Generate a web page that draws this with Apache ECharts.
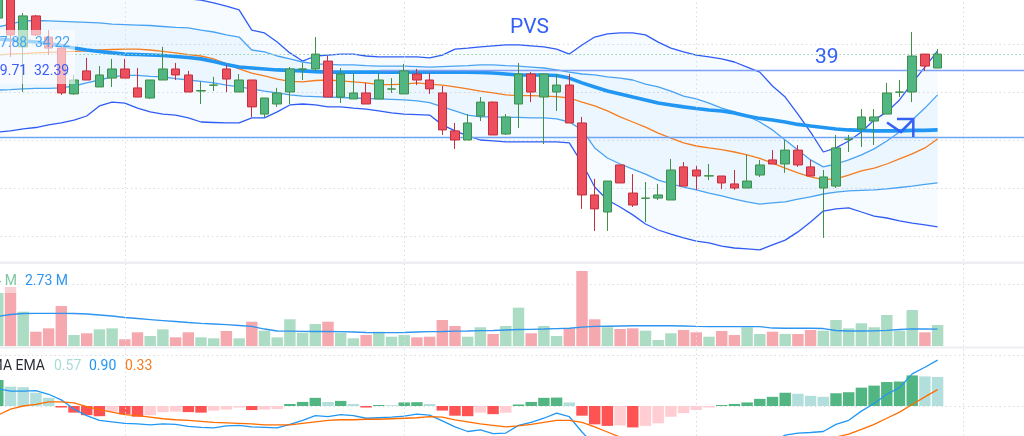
<!DOCTYPE html>
<html><head><meta charset="utf-8">
<script src="https://cdn.jsdelivr.net/npm/echarts@6/dist/echarts.min.js"></script>
<style>html,body{margin:0;padding:0;background:#fff;overflow:hidden}#c{width:1024px;height:436px}</style>
</head><body><div id="c"></div>
<script>
// [open, close, low, high]
const candles = [
[41.08,42.30,41.00,42.50],[42.40,40.38,39.46,42.50],[39.88,41.17,38.00,41.29],[41.17,40.38,40.33,41.21],[40.29,39.83,39.54,40.58],
[39.83,37.96,37.88,39.88],[37.92,38.50,37.88,38.71],[38.88,38.50,38.50,39.42],[38.21,38.71,38.21,39.08],[38.58,38.96,38.21,39.38],
[38.96,38.58,38.58,39.38],[38.17,37.79,37.79,39.00],[37.75,38.50,37.71,38.50],[38.50,38.96,38.50,39.88],[38.96,38.71,38.50,39.21],
[38.71,38.00,38.00,38.88],[38.04,38.06,37.50,38.42],[38.28,38.29,38.04,38.63],[38.96,38.54,38.00,39.13],[38.00,38.50,38.00,38.75],
[38.50,37.38,36.96,38.50],[37.08,37.75,36.96,37.75],[37.50,37.96,37.38,38.17],[38.00,38.96,37.50,39.04],[38.95,38.96,38.50,39.21],
[38.96,39.58,38.88,40.29],[39.29,37.79,37.79,39.50],[37.79,38.75,37.54,39.00],[37.71,37.96,37.71,38.79],[37.96,37.50,37.50,38.38],
[37.71,38.50,37.71,38.79],[38.12,38.13,37.96,38.58],[37.92,38.88,37.92,39.17],[38.75,38.50,38.29,38.96],[38.50,38.13,37.92,38.79],
[37.96,36.42,36.21,38.25],[36.38,36.00,35.63,36.71],[36.00,36.71,36.00,37.08],[37.00,37.58,36.79,37.79],[37.58,36.21,36.21,37.60],
[36.25,36.96,36.21,37.08],[37.50,38.75,36.50,39.21],[38.75,38.00,37.58,38.83],[37.79,38.75,35.83,38.75],[38.00,38.29,37.21,38.75],
[38.29,36.71,36.71,38.75],[36.71,33.71,33.13,36.96],[33.71,33.13,32.21,34.38],[33.00,34.29,32.21,34.29],[34.96,34.21,34.21,34.96],
[33.79,33.29,33.21,34.58],[33.57,33.58,32.58,34.25],[33.58,33.71,33.50,34.17],[33.50,34.75,33.50,35.21],[34.88,34.08,34.08,35.08],
[34.75,34.50,33.92,34.92],[34.50,34.51,34.33,35.00],[34.50,34.21,33.96,34.50],[34.17,34.00,33.92,34.75],[34.00,34.29,34.00,35.38],
[34.54,34.96,34.46,35.17],[35.17,35.00,35.00,35.58],[35.00,35.58,34.63,36.00],[35.58,34.96,34.88,35.79],[34.88,34.50,34.50,35.17],
[34.00,34.46,31.92,34.75],[34.08,35.67,34.00,36.21],[36.03,36.04,35.50,36.21],[36.46,36.96,35.71,37.29],[36.79,36.96,35.79,37.29],
[37.08,37.96,37.08,38.38],[37.99,38.00,37.79,38.50],[38.00,39.50,37.58,40.50],[39.58,39.08,38.88,39.58],[39.00,39.58,39.00,39.79]
];
const volumes = [8.55,9.52,5.53,2.31,2.85,6.45,1.77,2.05,2.69,2.85,
1.08,2.21,1.61,2.69,1.40,2.21,1.40,1.24,2.42,1.24,
3.92,2.47,1.40,4.31,2.15,3.55,3.92,2.15,1.24,1.77,
2.31,1.50,1.77,1.40,1.50,4.19,3.23,1.50,3.02,1.94,
3.23,6.18,2.05,3.23,1.61,2.85,12.10,4.31,3.02,2.74,
2.85,2.47,0.97,2.05,2.58,2.21,1.50,2.42,1.77,3.02,
1.94,2.31,1.94,1.94,2.58,2.47,4.19,2.85,3.66,3.02,
5.00,2.47,5.81,2.21,3.39];
const volumeMA = [4.76,5.08,5.24,5.27,5.27,5.27,5.24,5.16,5.00,4.84,
4.60,4.44,4.27,4.11,3.95,3.79,3.66,3.55,3.44,3.31,
3.15,2.74,2.42,2.39,2.36,2.34,2.34,2.31,2.26,2.18,
2.15,2.15,2.18,2.26,2.31,2.34,2.39,2.42,2.47,2.50,
2.58,2.66,2.69,2.74,2.81,2.86,3.06,3.15,3.19,3.23,
3.27,3.27,3.27,3.27,3.23,3.15,3.11,3.11,3.11,3.11,
3.11,2.90,2.86,2.86,2.86,2.82,2.50,2.42,2.42,2.45,
2.53,2.66,2.75,2.74,2.73];
const bbUpper = [42.08,42.08,42.04,42.04,42.00,42.00,42.00,42.00,42.00,41.96,
41.96,41.92,41.92,41.92,41.88,41.88,41.83,41.71,41.58,41.42,
40.58,40.46,40.08,39.63,39.29,39.50,39.54,39.58,39.58,39.50,
39.46,39.46,39.46,39.46,39.42,39.54,39.79,39.83,39.88,39.92,
39.96,39.96,39.92,39.88,39.79,39.58,39.96,40.29,40.42,40.46,
40.46,40.38,40.08,39.83,39.67,39.54,39.46,39.38,39.25,39.04,
38.83,38.25,37.79,37.08,36.33,35.50,35.67,35.96,36.33,36.83,
37.17,37.67,38.38,39.04,39.71];
const bbLower = [36.33,36.38,36.46,36.52,36.63,36.71,36.83,37.00,37.42,37.58,
37.54,37.33,37.17,37.08,37.04,36.92,36.75,36.73,36.71,36.71,
36.92,36.92,37.17,37.46,37.50,37.46,37.38,37.38,37.33,37.29,
37.21,37.13,37.08,37.06,37.04,36.63,36.38,36.17,36.00,35.96,
35.92,35.92,35.92,35.92,35.92,35.88,35.04,34.04,33.50,33.21,
32.88,32.50,32.25,32.08,31.92,31.79,31.71,31.58,31.50,31.46,
31.42,31.63,31.83,32.17,32.58,33.04,33.13,33.17,33.00,32.83,
32.75,32.63,32.54,32.46,32.38];
const bbInnerUpper = [40.71,40.83,40.96,40.98,40.96,40.94,40.92,40.90,40.88,40.83,
40.81,40.79,40.77,40.73,40.69,40.67,40.58,40.50,40.38,40.29,
39.75,39.67,39.50,39.38,39.25,39.17,39.15,39.13,39.13,39.10,
39.08,39.08,39.08,39.06,39.04,39.06,39.08,39.10,39.13,39.13,
39.10,39.08,39.04,39.00,38.92,38.83,38.75,38.71,38.63,38.58,
38.50,38.33,38.21,38.04,37.83,37.71,37.54,37.33,37.17,37.00,
36.75,36.42,36.00,35.58,35.17,34.88,35.00,35.17,35.38,35.63,
35.96,36.33,36.83,37.33,37.88];
const bbInnerLower = [38.08,38.10,38.13,38.15,38.15,38.17,38.25,38.38,38.50,38.63,
38.69,38.69,38.65,38.63,38.56,38.50,38.44,38.38,38.29,38.21,
38.13,38.04,37.96,37.88,37.83,37.81,37.79,37.77,37.75,37.73,
37.71,37.69,37.67,37.63,37.56,37.38,37.21,37.04,36.96,36.96,
36.94,36.94,36.92,36.92,36.88,36.75,36.42,35.67,35.25,35.00,
34.79,34.58,34.33,34.17,34.04,33.92,33.79,33.67,33.54,33.42,
33.33,33.38,33.42,33.54,33.63,33.75,33.83,33.88,33.90,33.92,
33.96,34.02,34.08,34.15,34.21];
const maLine = [40.21,40.17,40.13,40.08,40.02,39.94,39.83,39.75,39.69,39.63,
39.58,39.56,39.54,39.52,39.48,39.44,39.38,39.27,39.15,39.04,
39.00,38.96,38.92,38.90,38.88,38.85,38.83,38.83,38.83,38.83,
38.83,38.83,38.83,38.83,38.83,38.83,38.83,38.83,38.81,38.79,
38.75,38.71,38.71,38.71,38.69,38.58,38.38,38.21,38.04,37.92,
37.79,37.67,37.54,37.46,37.38,37.31,37.25,37.21,37.13,37.00,
36.90,36.83,36.75,36.65,36.58,36.52,36.46,36.42,36.40,36.38,
36.38,36.38,36.40,36.40,36.42];
const emaLine = [39.54,39.58,39.60,39.63,39.65,39.67,39.69,39.71,39.75,39.77,
39.79,39.79,39.75,39.69,39.63,39.56,39.50,39.38,39.17,38.96,
38.79,38.67,38.54,38.44,38.42,38.48,38.50,38.46,38.42,38.38,
38.31,38.31,38.33,38.38,38.33,38.29,38.21,38.13,38.04,37.96,
37.88,37.85,37.85,37.83,37.81,37.75,37.58,37.42,37.21,36.96,
36.75,36.54,36.29,36.08,35.88,35.75,35.67,35.60,35.50,35.38,
35.23,35.04,34.83,34.63,34.46,34.35,34.38,34.54,34.71,34.83,
35.00,35.21,35.42,35.67,36.04];
const macdLine = [0.34,0.29,0.29,0.30,0.23,0.12,-0.06,-0.19,-0.28,-0.31,
-0.34,-0.35,-0.37,-0.35,-0.36,-0.40,-0.42,-0.43,-0.39,-0.38,
-0.41,-0.42,-0.43,-0.36,-0.28,-0.19,-0.21,-0.17,-0.19,-0.24,
-0.23,-0.22,-0.20,-0.16,-0.18,-0.29,-0.41,-0.50,-0.47,-0.54,
-0.53,-0.38,-0.32,-0.24,-0.14,-0.21,-0.51,-0.77,-0.90,-0.99,
-1.13,-1.20,-1.23,-1.16,-1.12,-1.08,-1.04,-0.98,-0.95,-0.91,
-0.80,-0.72,-0.57,-0.53,-0.52,-0.50,-0.36,-0.28,-0.10,0.05,
0.23,0.36,0.63,0.76,0.90];
const signalLine = [-0.18,-0.06,0.00,0.03,0.08,0.08,0.06,-0.01,-0.07,-0.12,
-0.17,-0.19,-0.22,-0.25,-0.27,-0.28,-0.30,-0.32,-0.33,-0.34,
-0.35,-0.37,-0.37,-0.37,-0.34,-0.31,-0.28,-0.27,-0.27,-0.26,
-0.26,-0.25,-0.24,-0.23,-0.21,-0.22,-0.27,-0.31,-0.35,-0.38,
-0.41,-0.39,-0.36,-0.32,-0.28,-0.28,-0.32,-0.41,-0.51,-0.61,
-0.71,-0.81,-0.89,-0.95,-0.98,-1.00,-1.01,-1.00,-0.99,-0.98,
-0.94,-0.90,-0.83,-0.77,-0.72,-0.68,-0.61,-0.55,-0.46,-0.36,
-0.24,-0.12,0.03,0.18,0.32];
const histogram = [0.51,0.38,0.37,0.26,0.16,-0.03,-0.13,-0.18,-0.20,-0.11,
-0.16,-0.21,-0.18,-0.12,-0.11,-0.12,-0.13,-0.09,-0.07,-0.03,
-0.08,-0.07,-0.06,0.04,0.08,0.16,0.08,0.10,0.04,-0.03,
0.02,0.015,0.07,0.075,0.04,-0.09,-0.19,-0.20,-0.13,-0.16,
-0.13,0.03,0.08,0.16,0.165,0.07,-0.19,-0.36,-0.39,-0.38,
-0.42,-0.39,-0.34,-0.21,-0.14,-0.08,-0.03,0.02,0.04,0.07,
0.14,0.18,0.26,0.24,0.20,0.18,0.25,0.27,0.36,0.40,
0.47,0.48,0.60,0.58,0.57];
const slotCount = 82;
const categories = Array.from({length: slotCount}, (_, i) => 'D' + (i + 1));
const verticalGridIdx = [10, 32, 55, 76];
const supportLevel = 36.12;
const resistanceLevel = 38.92;
const resistanceStartIdx = 30;
const lastPrice = candles[candles.length - 1][1];

const chart = echarts.init(document.getElementById('c'), null, {renderer: 'canvas'});
const GL = -8.55, GW = 1041.4;
const grids = [
  {left: GL, width: GW, top: -4, height: 288},
  {left: GL, width: GW, top: 263, height: 83},
  {left: GL, width: GW, top: 355, height: 102},
  {left: GL, width: GW, top: 0, height: 436}
].map(g => Object.assign(g, {outerBoundsMode: 'none', containLabel: false}));
const xAxes = grids.map((g, i) => ({
  type: 'category', gridIndex: i, data: categories, boundaryGap: true,
  axisLine: {show: false}, axisTick: {show: false}, axisLabel: {show: false}, splitLine: {show: false}
}));
const gridDots = {color: '#d9dce3', type: [1.5, 3], width: 1};
const yBase = {axisLine: {show: false}, axisTick: {show: false}, axisLabel: {show: false}};
const yAxes = [
  Object.assign({type: 'value', gridIndex: 0, min: 30, max: 42, interval: 2, splitLine: {show: true, lineStyle: gridDots}}, yBase),
  Object.assign({type: 'value', gridIndex: 1, min: 0, max: 13.39, splitLine: {show: false}}, yBase),
  Object.assign({type: 'value', gridIndex: 2, min: -1, max: 1, interval: 1, splitLine: {show: true, lineStyle: gridDots}}, yBase),
  Object.assign({type: 'value', gridIndex: 3, min: 0, max: 1, splitLine: {show: false}}, yBase)
];
const lineS = (data, color, width, z) => ({
  type: 'line', data, xAxisIndex: 0, yAxisIndex: 0, symbol: 'none', silent: true, z: z || 3,
  lineStyle: {color, width}, smooth: false
});
const up = c => c[1] >= c[0];
const series = [
  {type: 'line', data: categories.map(() => null), xAxisIndex: 3, yAxisIndex: 3, symbol: 'none', z: 1, silent: true,
   markLine: {symbol: 'none', silent: true, label: {show: false}, lineStyle: gridDots, animation: false,
     data: verticalGridIdx.map(i => ({xAxis: categories[i]}))}},
  {type: 'line', data: bbLower, stack: 'outer', xAxisIndex: 0, yAxisIndex: 0, symbol: 'none', silent: true, lineStyle: {opacity: 0}, z: 2},
  {type: 'line', data: bbUpper.map((v, i) => +(v - bbLower[i]).toFixed(3)), stack: 'outer', xAxisIndex: 0, yAxisIndex: 0, symbol: 'none', silent: true,
   lineStyle: {opacity: 0}, areaStyle: {color: 'rgba(33,150,243,0.055)'}, z: 2},
  {type: 'line', data: bbInnerLower, stack: 'inner', xAxisIndex: 0, yAxisIndex: 0, symbol: 'none', silent: true, lineStyle: {opacity: 0}, z: 2},
  {type: 'line', data: bbInnerUpper.map((v, i) => +(v - bbInnerLower[i]).toFixed(3)), stack: 'inner', xAxisIndex: 0, yAxisIndex: 0, symbol: 'none', silent: true,
   lineStyle: {opacity: 0}, areaStyle: {color: 'rgba(33,150,243,0.06)'}, z: 2},
  lineS(bbUpper, '#2f5cf5', 1.3),
  lineS(bbLower, '#2f5cf5', 1.3),
  lineS(bbInnerUpper, '#4aa3f2', 1.3),
  lineS(bbInnerLower, '#4aa3f2', 1.3),
  lineS(emaLine, '#f57c1f', 1.3),
  lineS(maLine, '#2196f3', 3.6, 4),
  {type: 'candlestick', data: candles, xAxisIndex: 0, yAxisIndex: 0, barWidth: 9, clip: true, z: 5, silent: true,
   itemStyle: {color: '#52b683', color0: '#ec4f5e', borderColor: '#3f8f46', borderColor0: '#c42f3d', borderWidth: 1},
   markLine: {symbol: 'none', silent: true, label: {show: false}, animation: false,
     data: [
       {yAxis: supportLevel, lineStyle: {color: '#6ea6f7', width: 1.3, type: 'solid'}},
       [{coord: [categories[resistanceStartIdx], resistanceLevel], lineStyle: {color: '#7ea0f6', width: 1.4, type: 'solid'}},
        {coord: [categories[slotCount - 1], resistanceLevel]}],
       {yAxis: lastPrice, lineStyle: {color: '#8fd3aa', width: 1, type: [1.5, 2.5]}}
     ]}},
  {type: 'bar', data: volumes, xAxisIndex: 1, yAxisIndex: 1, barWidth: '90%', silent: true, z: 3,
   itemStyle: {color: p => up(candles[p.dataIndex]) ? '#acdcc4' : '#f5a8ae'}},
  {type: 'line', data: volumeMA, xAxisIndex: 1, yAxisIndex: 1, symbol: 'none', silent: true, z: 4,
   lineStyle: {color: '#2f95f0', width: 1.3}},
  {type: 'bar', data: histogram, xAxisIndex: 2, yAxisIndex: 2, barWidth: '90%', silent: true, z: 3,
   itemStyle: {color: p => {
     const i = p.dataIndex, v = histogram[i], pv = i > 0 ? histogram[i - 1] : v - 1;
     if (v >= 0) return v >= pv ? '#52b683' : '#b2dfdb';
     return v <= pv ? '#ff5252' : '#ffcdd2';
   }}},
  {type: 'line', data: macdLine, xAxisIndex: 2, yAxisIndex: 2, symbol: 'none', silent: true, z: 4,
   lineStyle: {color: '#2196f3', width: 1.3}},
  {type: 'line', data: signalLine, xAxisIndex: 2, yAxisIndex: 2, symbol: 'none', silent: true, z: 4,
   lineStyle: {color: '#ff6d00', width: 1.3}}
];
const font = s => s + 'px Roboto, "Noto Sans", sans-serif';
const txt = (text, x, y, fill, size, align) => ({type: 'text', x, y, z: 101,
  style: {text, fill, font: font(size || 14), textAlign: align || 'left', textVerticalAlign: 'middle'}});
const graphic = [
  {type: 'rect', z: 100, shape: {x: 0, y: 30, width: 75, height: 54}, style: {fill: 'rgba(255,255,255,0.6)'}},
  {type: 'rect', z: 100, shape: {x: 0, y: 273, width: 70, height: 20}, style: {fill: 'rgba(255,255,255,0.45)'}},
  {type: 'rect', z: 100, shape: {x: 0, y: 261.5, width: 1024, height: 2.5}, style: {fill: '#eceef2'}},
  {type: 'rect', z: 100, shape: {x: 0, y: 346.5, width: 1024, height: 2}, style: {fill: '#eceef2'}},
  txt('37.88', -8, 43, '#45a4f4'),
  txt('34.22', 35, 43, '#45a4f4'),
  txt('39.71', -8, 71, '#3b5bf5'),
  txt('32.39', 34, 71, '#3b5bf5'),
  txt('5.94 M', 17, 281, '#7cc7a0', 14, 'right'),
  txt('2.73 M', 25, 281, '#2f95f0'),
  txt('EMA EMA', 45, 366, '#2a2e39', 14, 'right'),
  txt('0.57', 54, 366, '#a9dcd7'),
  txt('0.90', 89, 366, '#2196f3'),
  txt('0.33', 125, 366, '#f57c1f'),
  txt('PVS', 510, 28, '#3460f4', 21),
  txt('39', 815, 58, '#3460f4', 21),
  {type: 'polyline', z: 101, shape: {points: [[887, 122.5], [901, 132], [913, 119.5]]},
   style: {stroke: '#3460f4', lineWidth: 2.5, fill: null}},
  {type: 'polyline', z: 101, shape: {points: [[897, 119], [913.3, 119], [913.3, 137]]},
   style: {stroke: '#3460f4', lineWidth: 2.5, fill: null}}
];
chart.setOption({
  animation: false, backgroundColor: '#ffffff',
  grid: grids, xAxis: xAxes, yAxis: yAxes, series, graphic
});
</script></body></html>
